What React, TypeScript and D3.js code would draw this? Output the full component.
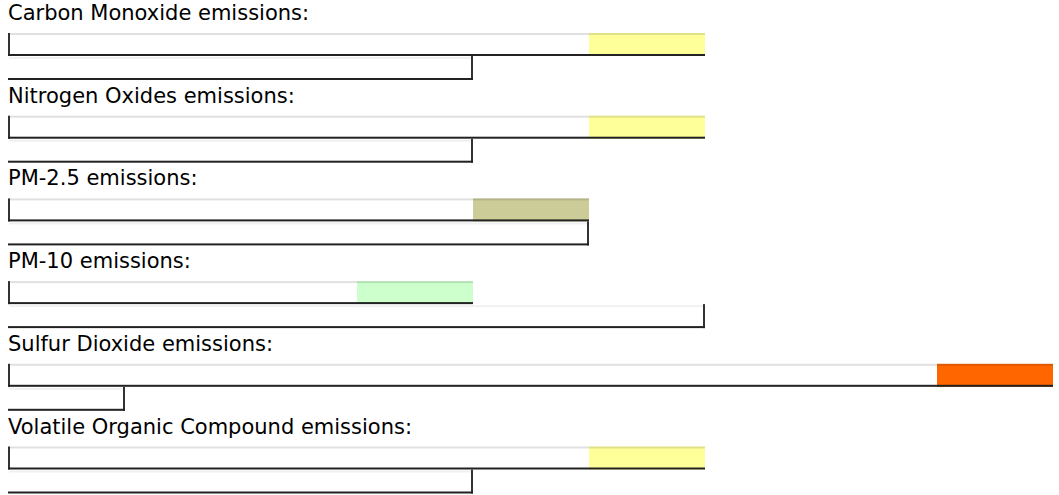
import { useEffect, useRef } from "react";
import * as d3 from "d3";

// pollutant rows, top to bottom
const pollutants = [
  "Carbon Monoxide",
  "Nitrogen Oxides",
  "PM-2.5",
  "PM-10",
  "Sulfur Dioxide",
  "Volatile Organic Compound",
];
// upper bar: score on a 0-9 scale, last step is coloured
const scores = [6, 6, 5, 4, 9, 6];
const scoreColors = ["#ffff99", "#ffff99", "#cccc99", "#ccffcc", "#ff6600", "#ffff99"];
// lower bar: comparison level on the same scale
const levels = [4, 4, 5, 6, 1, 4];

const WIDTH = 1059;
const HEIGHT = 495;
const ROW_H = 82.7;
const BAR_H = 23;

export default function App() {
  const svgRef = useRef<SVGSVGElement>(null);

  useEffect(() => {
    const svgEl = svgRef.current;
    if (!svgEl) return;
    const svg = d3.select(svgEl);
    svg.selectAll("*").remove();

    const x = d3.scaleLinear().domain([0, 9]).range([9, 1053]);
    const rowY = d3
      .scaleBand<string>()
      .domain(pollutants)
      .range([0, ROW_H * pollutants.length]);

    const rows = svg
      .selectAll("g.row")
      .data(pollutants)
      .join("g")
      .attr("class", "row")
      .attr("transform", (d) => `translate(0,${rowY(d)})`);

    rows
      .append("text")
      .attr("x", 8)
      .attr("y", 20)
      .attr("font-family", "'DejaVu Sans', Verdana, sans-serif")
      .attr("font-size", 21)
      .attr("fill", "#000")
      .text((d) => `${d} emissions:`);

    // upper bar
    const top = rows.append("g").attr("transform", "translate(0,33)");
    top
      .append("rect")
      .attr("x", x(0))
      .attr("y", 0)
      .attr("width", (_, i) => x(scores[i]) - x(0))
      .attr("height", BAR_H)
      .attr("fill", "#fff");
    top
      .append("rect")
      .attr("x", (_, i) => x(scores[i] - 1))
      .attr("y", 0)
      .attr("width", (_, i) => x(scores[i]) - x(scores[i] - 1))
      .attr("height", BAR_H)
      .attr("fill", (_, i) => scoreColors[i]);
    top
      .append("rect")
      .attr("x", x(0))
      .attr("y", 0)
      .attr("width", (_, i) => x(scores[i]) - x(0))
      .attr("height", 2)
      .attr("fill", "#000")
      .attr("fill-opacity", 0.12);
    top
      .append("rect")
      .attr("x", x(0) - 1)
      .attr("y", 0)
      .attr("width", 2)
      .attr("height", BAR_H)
      .attr("fill", "#333");
    top
      .append("rect")
      .attr("x", x(0) - 1)
      .attr("y", BAR_H - 2)
      .attr("width", (_, i) => x(scores[i]) - x(0) + 1)
      .attr("height", 2)
      .attr("fill", "#222");

    // lower bar
    const low = rows.append("g").attr("transform", `translate(0,${33 + BAR_H + 1})`);
    low
      .append("rect")
      .attr("x", x(0))
      .attr("y", 0)
      .attr("width", (_, i) => x(levels[i]) - x(0))
      .attr("height", BAR_H)
      .attr("fill", "#fff");
    low
      .append("rect")
      .attr("x", x(0))
      .attr("y", 0)
      .attr("width", (_, i) => x(levels[i]) - x(0))
      .attr("height", 2)
      .attr("fill", "#000")
      .attr("fill-opacity", 0.06);
    low
      .append("rect")
      .attr("x", (_, i) => x(levels[i]) - 2)
      .attr("y", -1)
      .attr("width", 2)
      .attr("height", BAR_H + 1)
      .attr("fill", "#333");
    low
      .append("rect")
      .attr("x", x(0) - 1)
      .attr("y", BAR_H - 2)
      .attr("width", (_, i) => x(levels[i]) - x(0) + 1)
      .attr("height", 2)
      .attr("fill", "#222");
  }, []);

  return (
    <svg
      ref={svgRef}
      width={WIDTH}
      height={HEIGHT}
      style={{ position: "absolute", left: 0, top: 0, background: "#fff" }}
    />
  );
}
